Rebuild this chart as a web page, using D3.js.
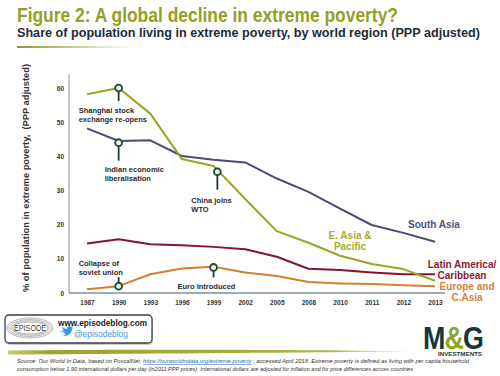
<!DOCTYPE html>
<html>
<head>
<meta charset="utf-8">
<script src="https://cdn.jsdelivr.net/npm/d3@7"></script>
<style>
  body { margin: 0; background: #fff; }
  svg { display: block; font-family: "Liberation Sans", Arial, sans-serif; }
</style>
</head>
<body>
<script>
// data
const years = ["1987", "1990", "1993", "1996", "1999", "2002", "2005", "2008", "2010", "2011", "2012", "2013"];
const eastAsia = [58.2, 60.0, 52.5, 39.2, 37.2, 27.5, 18.1, 14.7, 10.9, 8.5, 7.0, 3.6];
const southAsia = [48.2, 44.5, 44.7, 40.1, 39.0, 38.2, 33.5, 29.6, 24.7, 19.9, 17.6, 15.0];
const latinAmerica = [14.5, 15.7, 14.3, 14.0, 13.5, 12.8, 10.6, 7.1, 6.7, 6.0, 5.5, 5.5];
const europeCAsia = [1.1, 2.0, 5.5, 7.2, 7.7, 6.0, 5.0, 3.2, 2.8, 2.6, 2.3, 2.0];
const seriesNames = ["E. Asia & Pacific", "South Asia", "Latin America/ Caribbean", "Europe and C.Asia"];
const yTicks = [0, 10, 20, 30, 40, 50, 60];

const eventLabels = [
  ["Shanghai stock", "exchange re-opens"],
  ["Indian economic", "liberalisation"],
  ["China joins", "WTO"],
  ["Collapse of", "soviet union"],
  ["Euro introduced"]
];
const eventYears = ["1990", "1990", "1999", "1990", "1999"];
const eventValues = [60, 44, 35.5, 2, 7.5];

const svgEle = document.createElementNS("http://www.w3.org/2000/svg", "svg");
svgEle.setAttribute("width", "500");
svgEle.setAttribute("height", "376");
document.body.appendChild(svgEle);
const svg = d3.select(svgEle);

const defs = svg.append("defs");
const ul = defs.append("linearGradient").attr("id", "ul");
ul.append("stop").attr("offset", "0%").attr("stop-color", "#8f9a25");
ul.append("stop").attr("offset", "100%").attr("stop-color", "#8f9a25").attr("stop-opacity", 0);
const sw = defs.append("linearGradient").attr("id", "sw");
sw.append("stop").attr("offset", "0%").attr("stop-color", "#a3a82c").attr("stop-opacity", 0.6);
sw.append("stop").attr("offset", "10%").attr("stop-color", "#9ea328");
sw.append("stop").attr("offset", "80%").attr("stop-color", "#b0b440");
sw.append("stop").attr("offset", "100%").attr("stop-color", "#d6d68a").attr("stop-opacity", 0.3);

// title block
svg.append("text").attr("x", 17).attr("y", 22)
  .attr("font-size", 20).attr("font-weight", "bold").attr("fill", "#93a024")
  .attr("textLength", 381).attr("lengthAdjust", "spacingAndGlyphs")
  .text("Figure 2: A global decline in extreme poverty?");
svg.append("text").attr("x", 17).attr("y", 37)
  .attr("font-size", 13).attr("font-weight", "bold").attr("fill", "#1d2b38")
  .attr("textLength", 463).attr("lengthAdjust", "spacingAndGlyphs")
  .text("Share of population living in extreme poverty, by world region (PPP adjusted)");
svg.append("rect").attr("x", 17).attr("y", 46).attr("width", 115).attr("height", 2).attr("fill", "url(#ul)");

// scales
const x = d3.scalePoint().domain(years).range([87, 435]);
const y = d3.scaleLinear().domain([0, 60]).range([293, 88]);

// axes
const g = svg.append("g");
g.append("line").attr("x1", 69).attr("x2", 69).attr("y1", y(0)).attr("y2", y(64))
  .attr("stroke", "#8a9090").attr("stroke-width", 1);
g.append("line").attr("x1", 69).attr("x2", 445).attr("y1", y(0)).attr("y2", y(0))
  .attr("stroke", "#3c5a5a").attr("stroke-width", 1.2);

const yAxis = g.append("g").attr("transform", "translate(64,0)")
  .call(d3.axisLeft(y).tickValues(yTicks).tickSize(0).tickPadding(0));
yAxis.select(".domain").remove();
yAxis.selectAll("text").attr("font-size", 6.5).attr("font-weight", "bold").attr("fill", "#333")
  .attr("font-family", "Liberation Sans, Arial, sans-serif");

const xAxis = g.append("g").attr("transform", "translate(0," + y(0) + ")")
  .call(d3.axisBottom(x).tickSize(0).tickPadding(7));
xAxis.select(".domain").remove();
xAxis.selectAll("text").attr("font-size", 6.5).attr("font-weight", "bold").attr("fill", "#333")
  .attr("font-family", "Liberation Sans, Arial, sans-serif");

svg.append("text")
  .attr("transform", "translate(29,178) rotate(-90)")
  .attr("text-anchor", "middle").attr("font-size", 9.5).attr("font-weight", "bold").attr("fill", "#333")
  .attr("textLength", 228).attr("lengthAdjust", "spacingAndGlyphs")
  .style("white-space", "pre")
  .text("% of population in extreme poverty,  (PPP adjusted)");

// lines
const series = [
  { values: latinAmerica, color: "#84162c" },
  { values: europeCAsia, color: "#d2802f" },
  { values: southAsia, color: "#4a4a7c" },
  { values: eastAsia, color: "#9ca424" }
];
const line = d3.line().x((d, i) => x(years[i])).y(d => y(d));
g.selectAll(".series").data(series).enter().append("path")
  .attr("class", "series")
  .attr("fill", "none")
  .attr("stroke", d => d.color)
  .attr("stroke-width", 2)
  .attr("stroke-linejoin", "round")
  .attr("d", d => line(d.values));

// series labels
const labelStyle = [
  { x: 350, y: 238.5, anchor: "middle", color: "#a4ac2c", lines: ["E. Asia &", "Pacific"] },
  { x: 408, y: 228, anchor: "start", color: "#4f4f80", lines: ["South Asia"] },
  { x: 462, y: 267.5, anchor: "middle", color: "#8a1a30", lines: ["Latin America/", "Caribbean"] },
  { x: 467, y: 289.5, anchor: "middle", color: "#d2843a", lines: ["Europe and", "C.Asia"] }
];
labelStyle.forEach((s, i) => {
  const t = svg.append("text").attr("x", s.x).attr("y", s.y)
    .attr("text-anchor", s.anchor).attr("font-size", 10).attr("font-weight", "bold").attr("fill", s.color);
  t.attr("data-name", seriesNames[i]);
  s.lines.forEach((l, j) => {
    t.append("tspan").attr("x", s.x).attr("dy", j === 0 ? 0 : 11.3).text(l);
  });
});

// event annotations
const eventLayout = [
  { shift: 0, stem: 13, tx: -40, ty: 25 },
  { shift: 0, stem: 18, tx: -14, ty: 29 },
  { shift: 0.12, stem: 18, tx: -26, ty: 31 },
  { shift: 0, stem: -9, tx: -40, ty: -20 },
  { shift: 0, stem: 10, tx: -36, ty: 22 }
];
eventLabels.forEach((lab, i) => {
  const L = eventLayout[i];
  const cx = x(eventYears[i]) + L.shift * x.step();
  const cy = y(eventValues[i]);
  const a = svg.append("g");
  a.append("line").attr("x1", cx).attr("x2", cx).attr("y1", cy).attr("y2", cy + L.stem)
    .attr("stroke", "#1f3d2c").attr("stroke-width", 1.8);
  a.append("circle").attr("cx", cx).attr("cy", cy).attr("r", 3.4)
    .attr("fill", "#e3f3e6").attr("stroke", "#1f4530").attr("stroke-width", 1.8);
  const t = a.append("text").attr("x", cx + L.tx).attr("y", cy + L.ty)
    .attr("font-size", 7.5).attr("font-weight", "bold").attr("fill", "#2a2a2a");
  lab.forEach((l, j) => {
    t.append("tspan").attr("x", cx + L.tx).attr("dy", j === 0 ? 0 : 9).text(l);
  });
});

// footer: episode box
const ep = svg.append("g");
ep.append("rect").attr("x", 6).attr("y", 316).attr("width", 147).attr("height", 29).attr("rx", 4)
  .attr("fill", "#999").attr("opacity", 0.5);
ep.append("rect").attr("x", 5).attr("y", 315).attr("width", 147).attr("height", 28).attr("rx", 4)
  .attr("fill", "#fff").attr("stroke", "#3a3f45").attr("stroke-width", 1.3);
[[23, 10], [21, 8.5], [19, 7.2], [17.5, 6]].forEach((r, k) => {
  ep.append("ellipse").attr("cx", 30).attr("cy", 328).attr("rx", r[0]).attr("ry", r[1])
    .attr("fill", k === 3 ? "#fff" : "none").attr("stroke", "#888").attr("stroke-width", 0.6);
});
ep.append("text").attr("x", 30).attr("y", 331).attr("text-anchor", "middle")
  .attr("font-size", 8.5).attr("fill", "#444").attr("textLength", 32).attr("lengthAdjust", "spacingAndGlyphs")
  .text("EPISODE");
ep.append("text").attr("x", 58).attr("y", 325.5).attr("font-size", 9.5).attr("font-weight", "bold")
  .attr("fill", "#222").attr("textLength", 89).attr("lengthAdjust", "spacingAndGlyphs")
  .text("www.episodeblog.com");
ep.append("path")
  .attr("d", "M60,331 C62,333 64,333 65,332 C63,332 62,331 62,330 C63,331 64,330 64,330 C62,329 62,327 62,327 C64,328 66,329 67,329 C67,326 70,325 71,327 L73,326 L72,328 L73,328 L72,329 C72,333 68,337 62,336 C64,336 65,335 66,334 C64,334 63,333 63,332 Z")
  .attr("fill", "#3a9ae0");
ep.append("text").attr("x", 74).attr("y", 337).attr("font-size", 9).attr("fill", "#4a9ad6")
  .attr("textLength", 54).attr("lengthAdjust", "spacingAndGlyphs")
  .text("@episodeblog");

// footer: M&G logo
const mg = svg.append("text").attr("x", 423).attr("y", 349).attr("font-size", 31).attr("font-weight", "bold")
  .attr("fill", "#16373a").attr("textLength", 60).attr("lengthAdjust", "spacingAndGlyphs")
  .attr("letter-spacing", -1);
mg.append("tspan").text("M");
mg.append("tspan").attr("fill", "#8ca524").text("&");
mg.append("tspan").text("G");
svg.append("text").attr("x", 438).attr("y", 356).attr("font-size", 6).attr("font-weight", "bold")
  .attr("fill", "#16373a").attr("textLength", 44).attr("lengthAdjust", "spacingAndGlyphs")
  .text("INVESTMENTS");

// swoosh
svg.append("path")
  .attr("d", "M8,350.5 C120,349.5 300,349.5 415,351.5 C300,352.5 120,354 8,354.5 Z")
  .attr("fill", "url(#sw)");

// source note
const src = svg.append("text").attr("x", 17).attr("y", 363).attr("font-size", 5.2)
  .attr("font-style", "italic").attr("fill", "#333")
  .attr("textLength", 452).attr("lengthAdjust", "spacingAndGlyphs");
src.append("tspan").text("Source: Our World In Data, based on PovcalNet, ");
src.append("tspan").attr("fill", "#2a6ab8").attr("text-decoration", "underline")
  .text("https://ourworldindata.org/extreme-poverty");
src.append("tspan").text(" ; accessed April 2018. Extreme poverty is defined as living with per capita household");
svg.append("text").attr("x", 17).attr("y", 371).attr("font-size", 5.2)
  .attr("font-style", "italic").attr("fill", "#333")
  .attr("textLength", 396).attr("lengthAdjust", "spacingAndGlyphs")
  .text("consumption below 1.90 international dollars per day (in2011 PPP prices). International dollars are adjusted for inflation and for price differences across countries");
</script>
</body>
</html>
